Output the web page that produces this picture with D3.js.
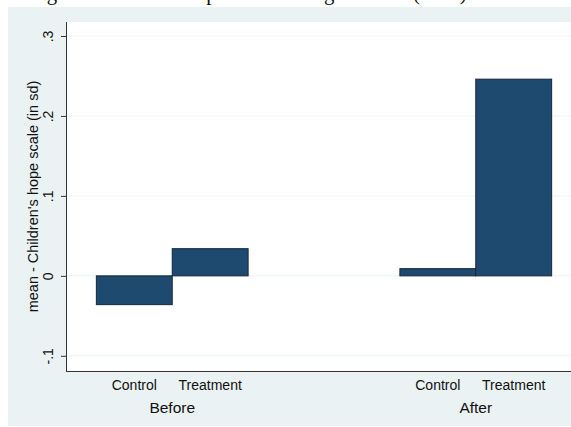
<!DOCTYPE html>
<html>
<head>
<meta charset="utf-8">
<script src="https://cdn.jsdelivr.net/npm/d3@7"></script>
<style>
  html, body { margin: 0; padding: 0; background: #ffffff; }
  svg { display: block; }
</style>
</head>
<body>
<svg id="chart" width="571" height="427"></svg>
<script>
// Mean children's hope scale (in sd), by period and condition
const groups = ["Before", "After"];
const conditions = ["Control", "Treatment"];
const beforeValues = [-0.036, 0.034];
const afterValues = [0.009, 0.246];
const yTicks = [-0.1, 0, 0.1, 0.2, 0.3];
const yTickLabels = ["-.1", "0", ".1", ".2", ".3"];
const yTitle = "mean - Children's hope scale (in sd)";
const caption = "Figure 3: Mean of hope scale among children (in sd)";

const rows = groups.flatMap((g, gi) =>
  conditions.map((c, ci) => ({
    group: g,
    condition: c,
    value: (gi === 0 ? beforeValues : afterValues)[ci]
  }))
);

const W = 571, H = 427;
const plot = { left: 66, top: 22, right: 571, bottom: 371 };

const svg = d3.select("#chart");

// caption line of the surrounding document (only its lower edge is in view)
svg.append("text")
  .attr("x", 29.5).attr("y", 0)
  .attr("font-family", "'Liberation Serif', 'Times New Roman', serif")
  .attr("font-size", 20.8)
  .attr("fill", "#111")
  .text(caption);

// graph region
svg.append("rect")
  .attr("x", 8).attr("y", 7)
  .attr("width", W - 8).attr("height", 419)
  .attr("fill", "#eaf2f3");

// plot region
svg.append("rect")
  .attr("x", plot.left).attr("y", plot.top)
  .attr("width", plot.right - plot.left).attr("height", plot.bottom - plot.top)
  .attr("fill", "#ffffff");

const y = d3.scaleLinear().domain([-0.119, 0.3175]).range([plot.bottom, plot.top]);
const xg = d3.scaleBand().domain(groups).range([plot.left, 582])
  .paddingInner(0.5).paddingOuter(0.1);
const xc = d3.scaleBand().domain(conditions).range([0, xg.bandwidth()]).padding(0);

// grid lines
svg.append("g").selectAll("line")
  .data(yTicks)
  .join("line")
  .attr("x1", plot.left).attr("x2", plot.right)
  .attr("y1", d => y(d)).attr("y2", d => y(d))
  .attr("stroke", "#eaf2f3").attr("stroke-width", 1);

// bars
svg.append("g").selectAll("rect")
  .data(rows)
  .join("rect")
  .attr("x", d => xg(d.group) + xc(d.condition))
  .attr("width", xc.bandwidth())
  .attr("y", d => y(Math.max(0, d.value)))
  .attr("height", d => Math.abs(y(d.value) - y(0)))
  .attr("fill", "#1e4a6f")
  .attr("stroke", "#16283a")
  .attr("stroke-width", 1);

// y axis
const yAxis = svg.append("g")
  .attr("transform", `translate(${plot.left},0)`)
  .call(d3.axisLeft(y).tickValues(yTicks)
    .tickFormat((d, i) => yTickLabels[i]).tickSize(5).tickSizeOuter(0));
yAxis.select(".domain").attr("stroke", "#333")
  .attr("d", `M0.5,${plot.top}V${plot.bottom}`);
yAxis.selectAll(".tick line").attr("stroke", "#333");
yAxis.selectAll(".tick text")
  .attr("transform", "rotate(-90)")
  .attr("x", 0).attr("y", -13).attr("dy", 0)
  .attr("text-anchor", "middle")
  .attr("font-family", "'Liberation Sans', Arial, sans-serif")
  .attr("font-size", 14)
  .attr("fill", "#111");

// x axis line
svg.append("line")
  .attr("x1", plot.left).attr("x2", plot.right)
  .attr("y1", plot.bottom + 0.5).attr("y2", plot.bottom + 0.5)
  .attr("stroke", "#333");

// condition labels
svg.append("g").selectAll("text")
  .data(rows)
  .join("text")
  .attr("x", d => xg(d.group) + xc(d.condition) + xc.bandwidth() / 2)
  .attr("y", 390)
  .attr("text-anchor", "middle")
  .attr("font-family", "'Liberation Sans', Arial, sans-serif")
  .attr("font-size", 14)
  .attr("fill", "#111")
  .text(d => d.condition);

// period labels
svg.append("g").selectAll("text")
  .data(groups)
  .join("text")
  .attr("x", d => xg(d) + xg.bandwidth() / 2)
  .attr("y", 413)
  .attr("text-anchor", "middle")
  .attr("font-family", "'Liberation Sans', Arial, sans-serif")
  .attr("font-size", 15.5)
  .attr("fill", "#111")
  .text(d => d);

// y title
svg.append("text")
  .attr("transform", `translate(38,${(plot.top + plot.bottom) / 2}) rotate(-90)`)
  .attr("text-anchor", "middle")
  .attr("font-family", "'Liberation Sans', Arial, sans-serif")
  .attr("font-size", 14.5)
  .attr("fill", "#111")
  .text(yTitle);
</script>
</body>
</html>
